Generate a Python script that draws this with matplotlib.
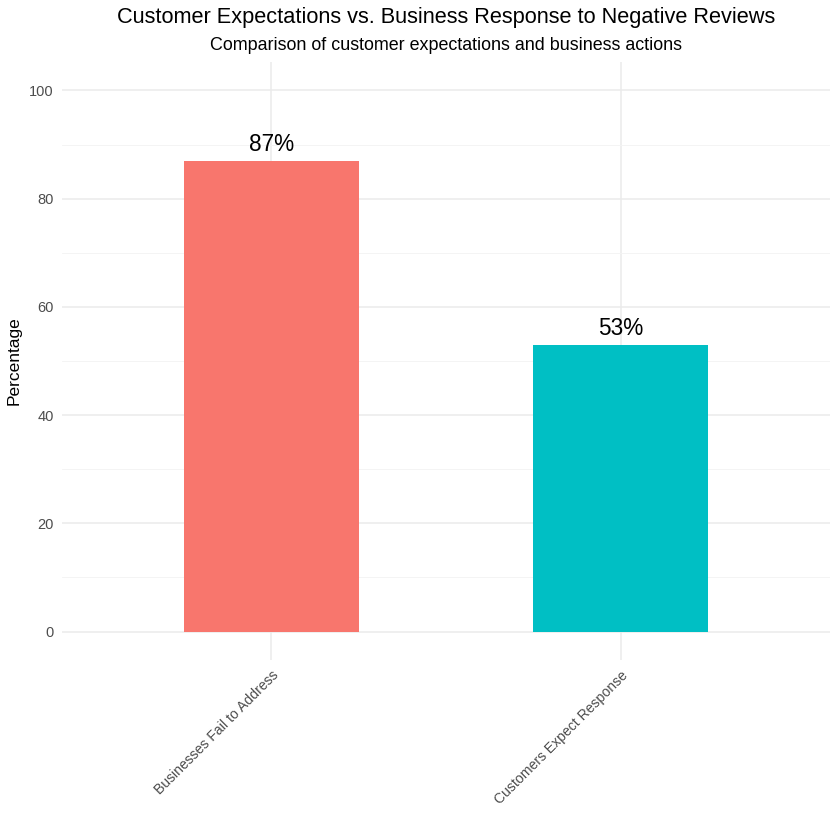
import matplotlib
matplotlib.use("Agg")
import matplotlib.pyplot as plt
from matplotlib.ticker import MultipleLocator

categories = ["Businesses Fail to Address", "Customers Expect Response"]
values = [87, 53]
labels = ["87%", "53%"]
colors = ["#F8766D", "#00BFC4"]
yticks = [0, 20, 40, 60, 80, 100]

plt.rcParams['font.family'] = ['Liberation Sans', 'DejaVu Sans']

fig = plt.figure(figsize=(8.4, 8.4), dpi=100)
ax = fig.add_axes([62/840, 180/840, 768/840, 598/840])

x = list(range(1, len(categories) + 1))
ax.bar(x, values, width=0.5, color=colors, zorder=3)
for xi, v, lab in zip(x, values, labels):
    ax.text(xi, v + 0.9, lab, ha='center', va='bottom', fontsize=16.3, color='black', zorder=4)

ax.set_xlim(0.4, 2.6)
ax.set_ylim(-5.25, 105.25)
ax.set_yticks(yticks)
ax.yaxis.set_minor_locator(MultipleLocator(10))
ax.set_xticks(x)
ax.set_xticklabels(categories, rotation=45, ha='right', rotation_mode='anchor')
ax.grid(True, which='major', color='#EBEBEB', linewidth=1.1, zorder=0)
ax.grid(True, which='minor', axis='y', color='#F3F3F3', linewidth=0.6, zorder=0)
for s in ax.spines.values():
    s.set_visible(False)
ax.tick_params(axis='both', which='both', length=0, labelsize=10.5, labelcolor='#4D4D4D')
ax.tick_params(axis='x', labelsize=10.1, pad=6)
ax.tick_params(axis='y', pad=6)
ax.set_ylabel("Percentage", fontsize=12.5, color='black', labelpad=5)

fig.text(446/840, 1 - 18/840, "Customer Expectations vs. Business Response to Negative Reviews",
         ha='center', va='center', fontsize=15.7, color='black')
fig.text(446/840, 1 - 45/840, "Comparison of customer expectations and business actions",
         ha='center', va='center', fontsize=12.9, color='black')

fig.savefig("out.png", dpi=100, facecolor='white')
